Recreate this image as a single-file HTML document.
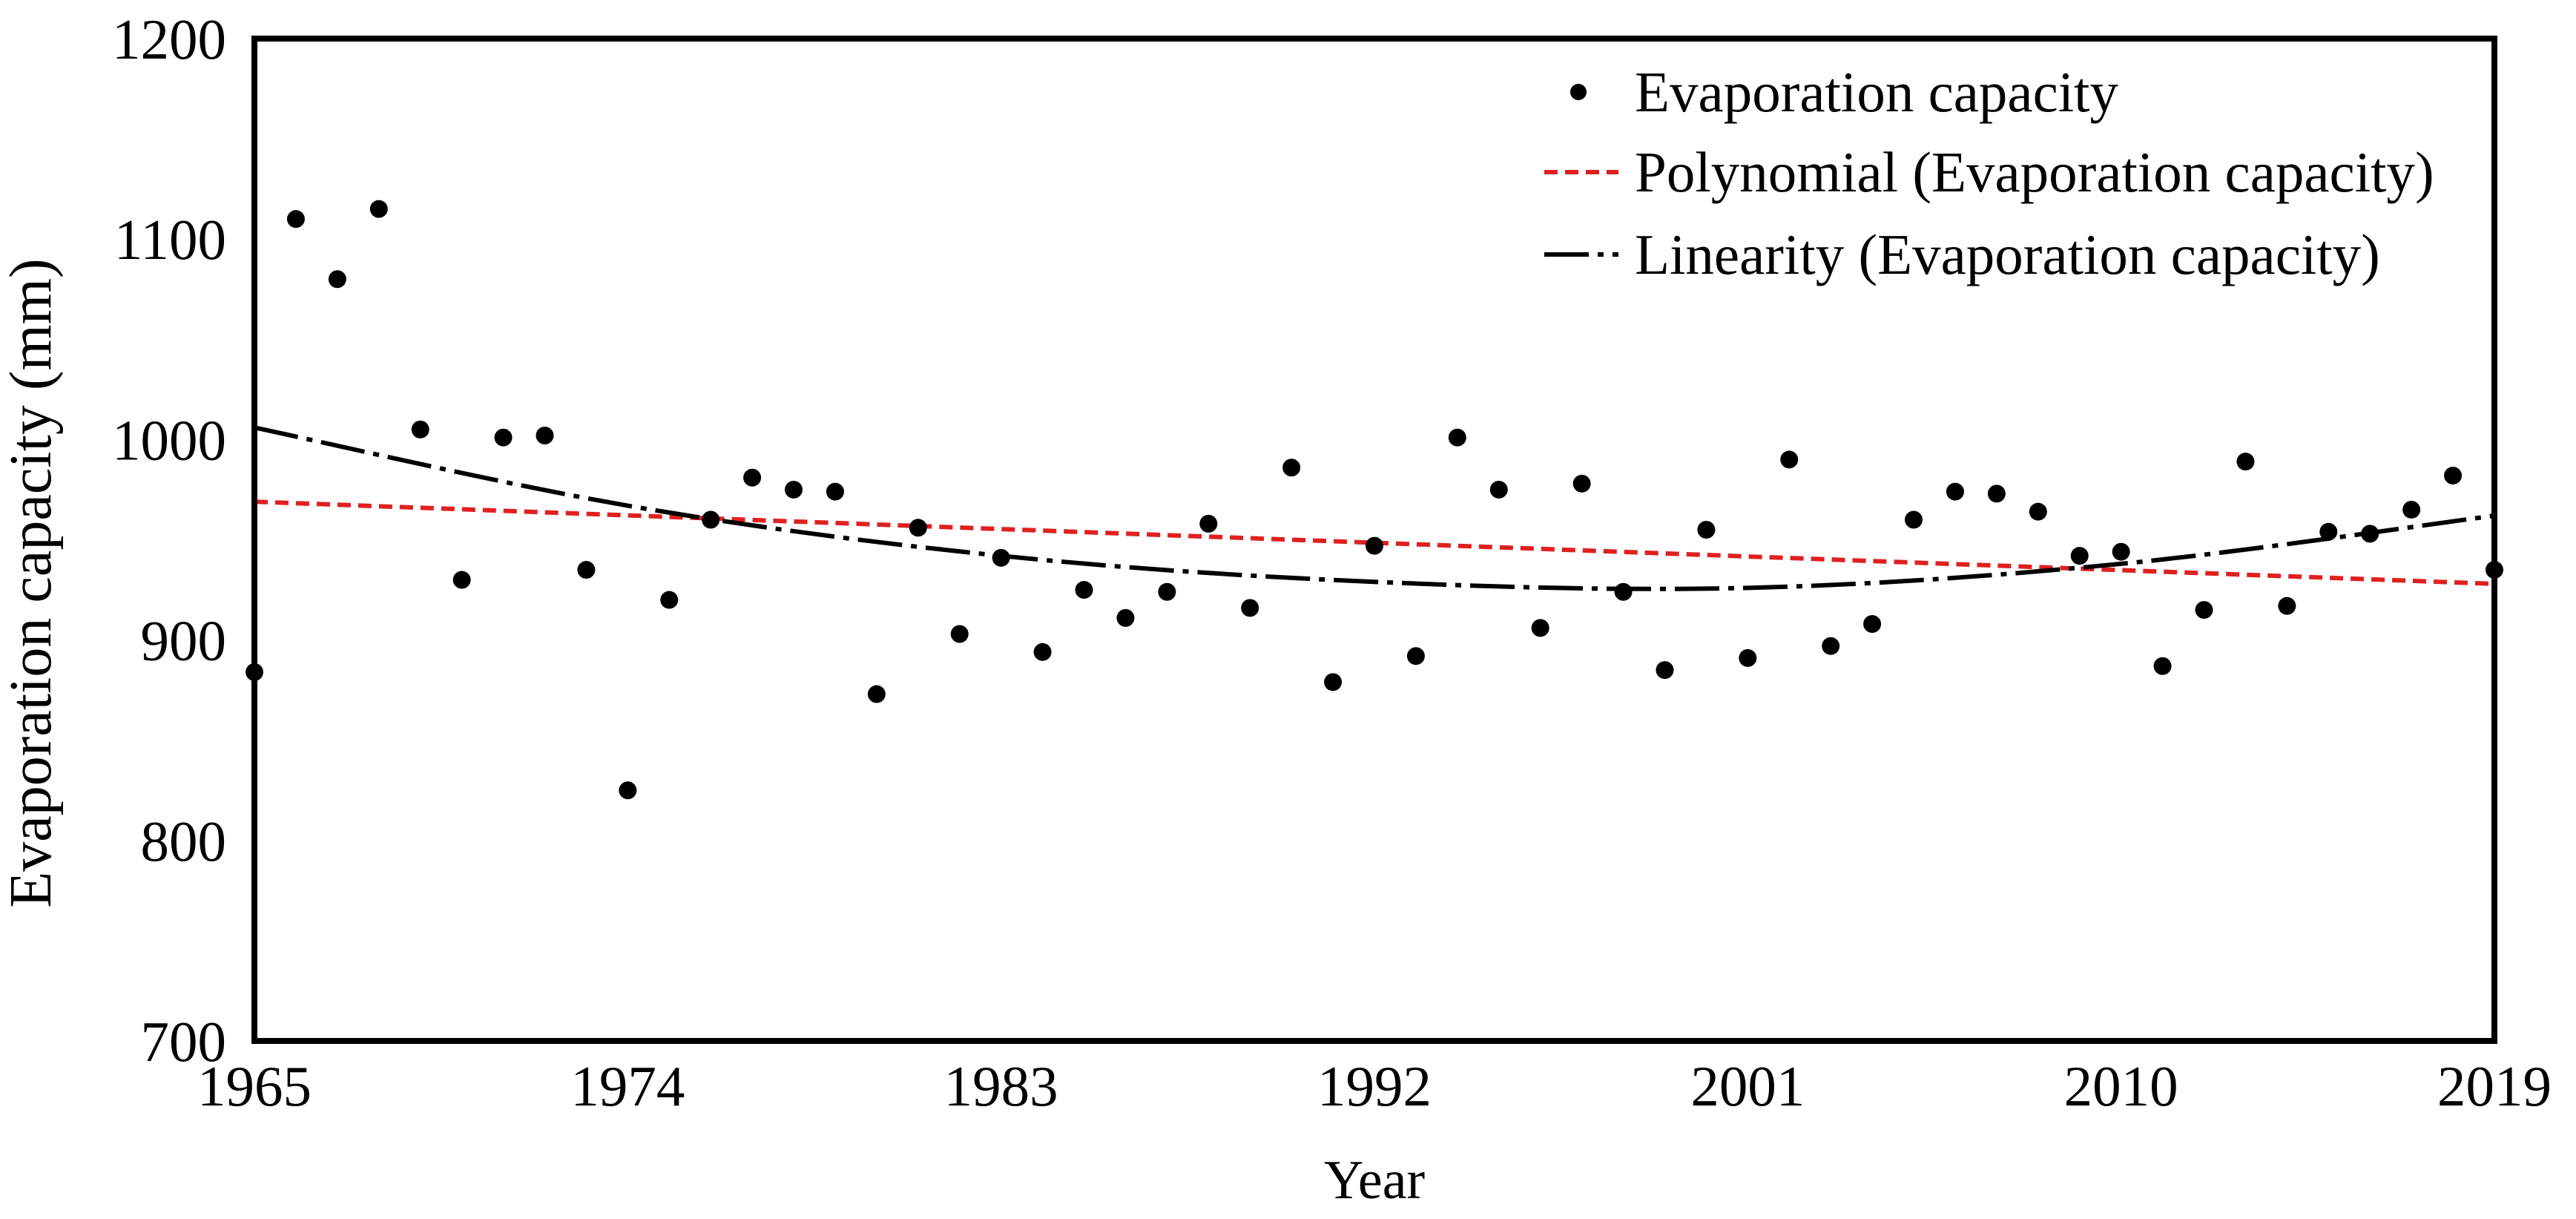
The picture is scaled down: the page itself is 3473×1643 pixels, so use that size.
<!DOCTYPE html>
<html><head><meta charset="utf-8"><style>
html,body{margin:0;padding:0;background:#fff;}
svg{display:block;font-family:"Liberation Serif",serif;}
</style></head><body>
<svg id="chart" width="3473" height="1643" viewBox="0 0 3473 1643">
<g id="grid"></g>
<g id="marks"></g>
<rect x="343" y="52" width="3020" height="1351" fill="none" stroke="#000" stroke-width="8"/>
<g id="axes"></g>
<text x="68" y="786" font-size="80" text-anchor="middle" transform="rotate(-90 68 786)">Evaporation capacity (mm)</text>
<text x="1853" y="1615" font-size="74" text-anchor="middle">Year</text>
<g>
  <g>
    <circle cx="2128" cy="124" r="11" fill="#000"/>
    <text x="2204" y="150" font-size="77">Evaporation capacity</text>
  </g>
  <g>
    <line x1="2082" y1="232" x2="2182" y2="232" stroke="#e02020" stroke-width="6" stroke-dasharray="18 10"/>
    <text x="2204" y="258" font-size="77">Polynomial (Evaporation capacity)</text>
  </g>
  <g>
    <line x1="2082" y1="343" x2="2182" y2="343" stroke="#000" stroke-width="6" stroke-dasharray="60 12 8 12"/>
    <text x="2204" y="369" font-size="77">Linearity (Evaporation capacity)</text>
  </g>
</g>
</svg>
<script>
const years = [1965,1966,1967,1968,1969,1970,1971,1972,1973,1974,1975,1976,1977,1978,1979,1980,1981,1982,1983,1984,1985,1986,1987,1988,1989,1990,1991,1992,1993,1994,1995,1996,1997,1998,1999,2000,2001,2002,2003,2004,2005,2006,2007,2008,2009,2010,2011,2012,2013,2014,2015,2016,2017,2018,2019];
const evaporation = [884,1110,1080,1115,1005,930,1001,1002,935,825,920,960,981,975,974,873,956,903,941,894,925,911,924,958,916,986,879,947,892,1001,975,906,978,924,885,955,891,990,897,908,960,974,973,964,942,944,887,915,989,917,954,953,965,982,935];
const linYears = [1965,2019];
const linValues = [969,928];
const curveYears = [1965,1974,1983,1992,2001,2010,2019];
const curveValues = [1006,967,942,929,926,938,962];
const xTicks = [1965,1974,1983,1992,2001,2010,2019];
const yTicks = [700,800,900,1000,1100,1200];

const L=343,R=3363,T=52,B=1403;
const xs = v => L + (v-1965)/(2019-1965)*(R-L);
const ys = v => B - (v-700)/(1200-700)*(B-T);
const NS="http://www.w3.org/2000/svg";
const axes=document.getElementById('axes'), marks=document.getElementById('marks');

yTicks.forEach(t=>{
  const tx=document.createElementNS(NS,'text');
  tx.setAttribute('x',305);tx.setAttribute('y',ys(t)+27);
  tx.setAttribute('font-size','77');tx.setAttribute('text-anchor','end');
  tx.textContent=t;
  
  
  axes.appendChild(tx);
});
xTicks.forEach(t=>{
  const tx=document.createElementNS(NS,'text');
  tx.setAttribute('x',xs(t));tx.setAttribute('y',1490);
  tx.setAttribute('font-size','77');tx.setAttribute('text-anchor','middle');
  tx.textContent=t;
  
  
  axes.appendChild(tx);
});

const lin=document.createElementNS(NS,'line');
lin.setAttribute('x1',xs(linYears[0]));lin.setAttribute('y1',ys(linValues[0]));
lin.setAttribute('x2',xs(linYears[1]));lin.setAttribute('y2',ys(linValues[1]));
lin.setAttribute('stroke','#e02020');lin.setAttribute('stroke-width','6');lin.setAttribute('stroke-dasharray','18 10');


marks.appendChild(lin);

const pts=curveYears.map((y,i)=>[xs(y),ys(curveValues[i])]);
let d=`M${pts[0][0]},${pts[0][1]}`;
for(let i=0;i<pts.length-1;i++){
  const p0=pts[Math.max(0,i-1)],p1=pts[i],p2=pts[i+1],p3=pts[Math.min(pts.length-1,i+2)];
  const c1=[p1[0]+(p2[0]-p0[0])/6,p1[1]+(p2[1]-p0[1])/6];
  const c2=[p2[0]-(p3[0]-p1[0])/6,p2[1]-(p3[1]-p1[1])/6];
  d+=` C${c1[0]},${c1[1]} ${c2[0]},${c2[1]} ${p2[0]},${p2[1]}`;
}
const cp=document.createElementNS(NS,'path');
cp.setAttribute('d',d);cp.setAttribute('fill','none');cp.setAttribute('stroke','#000');
cp.setAttribute('stroke-width','6');cp.setAttribute('stroke-dasharray','60 12 8 12');


marks.appendChild(cp);

years.forEach((y,i)=>{
  const c=document.createElementNS(NS,'circle');
  c.setAttribute('cx',xs(y));c.setAttribute('cy',ys(evaporation[i]));c.setAttribute('r',12);c.setAttribute('fill','#000');
  
  
  marks.appendChild(c);
});
</script>
</body></html>
